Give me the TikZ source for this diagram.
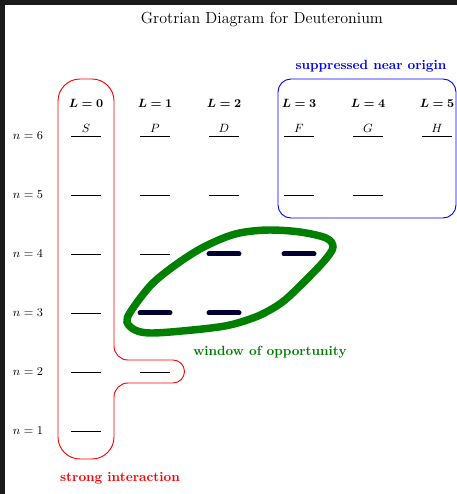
\documentclass[tikz,border=0pt]{standalone}
\usepackage{amsmath}
\usepackage{bm}
\definecolor{darkframe}{HTML}{1A1A1A}
\definecolor{wingreen}{rgb}{0,0.5,0}
\definecolor{barblue}{rgb}{0,0,0.2}
\tikzset{
  levline/.style={line width=0.45pt},
  winbar/.style={line width=3.75pt, line cap=round, draw=barblue},
  smalltext/.style={font=\small, inner sep=0pt},
  notetext/.style={font=\bfseries, inner sep=0pt},
}
\begin{document}
\begin{tikzpicture}[x=0.75pt,y=0.75pt]
\useasboundingbox (0,0) rectangle (457,494);
\fill[darkframe] (0,0) rectangle (457,494);
\fill[white] (5,0) rectangle (457,489);

\node[font=\large, inner sep=0pt] (title) at (262,474) {Grotrian Diagram for Deuteronium};

% column headers
\node[smalltext] (L0) at (86,391) {$\bm{L=0}$};
\node[smalltext] (L1) at (155,391) {$\bm{L=1}$};
\node[smalltext] (L2) at (224,391) {$\bm{L=2}$};
\node[smalltext] (L3) at (299,391) {$\bm{L=3}$};
\node[smalltext] (L4) at (368,391) {$\bm{L=4}$};
\node[smalltext] (L5) at (437,391) {$\bm{L=5}$};
\node[smalltext] (sS) at (86,366) {$S$};
\node[smalltext] (sP) at (155,366) {$P$};
\node[smalltext] (sD) at (224,366) {$D$};
\node[smalltext] (sF) at (299,366) {$F$};
\node[smalltext] (sG) at (368,366) {$G$};
\node[smalltext] (sH) at (437,366) {$H$};

% row labels
\node[smalltext] (n1) at (28,63) {$n=1$};
\node[smalltext] (n2) at (28,122) {$n=2$};
\node[smalltext] (n3) at (28,181) {$n=3$};
\node[smalltext] (n4) at (28,240) {$n=4$};
\node[smalltext] (n5) at (28,299) {$n=5$};
\node[smalltext] (n6) at (28,358) {$n=6$};

% levels: S
\draw[levline] (71,63) -- (101,63);
\draw[levline] (71,122) -- (101,122);
\draw[levline] (71,181) -- (101,181);
\draw[levline] (71,240) -- (101,240);
\draw[levline] (71,299) -- (101,299);
\draw[levline] (71,358) -- (101,358);
% P
\draw[levline] (140,122) -- (170,122);
\draw[levline] (140,240) -- (170,240);
\draw[levline] (140,299) -- (170,299);
\draw[levline] (140,358) -- (170,358);
% D
\draw[levline] (209,299) -- (239,299);
\draw[levline] (209,358) -- (239,358);
% F
\draw[levline] (284,299) -- (314,299);
\draw[levline] (284,358) -- (314,358);
% G
\draw[levline] (353,299) -- (383,299);
\draw[levline] (353,358) -- (383,358);
% H
\draw[levline] (422,358) -- (452,358);

% strong interaction outline
\draw[red, line width=0.7pt]
  (58,393) arc(180:90:16.5pt) -- (92,415) arc(90:0:16.5pt)
  -- (114,148) arc(180:270:10.5pt) -- (173,134) arc(90:-90:8.625pt)
  -- (128,111) arc(90:180:10.5pt) -- (114,57) arc(0:-90:16.5pt)
  -- (80,35) arc(270:180:16.5pt) -- cycle;
\node[notetext, text=red] (strong) at (120,16) {strong interaction};

% suppressed near origin
\draw[blue, line width=0.7pt, rounded corners=9.75pt] (278,415) rectangle (456,276);
\node[notetext, text=blue] (supp) at (371,428) {suppressed near origin};

% window of opportunity
\draw[wingreen, line width=5.6pt] plot[smooth cycle, tension=0.55] coordinates {
  (127,172) (135,164) (150,161) (182,163) (225,168) (253,176) (270,184)
  (285,194) (305,213) (325,234) (333,247) (326,256) (300,262) (270,264)
  (245,262) (226,257) (200,245) (174,228) (151,209) (131,183)};
\node[notetext, text=wingreen] (win) at (270,142) {window of opportunity};

\draw[winbar] (209,240) -- (239,240);
\draw[winbar] (284,240) -- (314,240);
\draw[winbar] (140,181) -- (170,181);
\draw[winbar] (209,181) -- (239,181);
\end{tikzpicture}
\end{document}
